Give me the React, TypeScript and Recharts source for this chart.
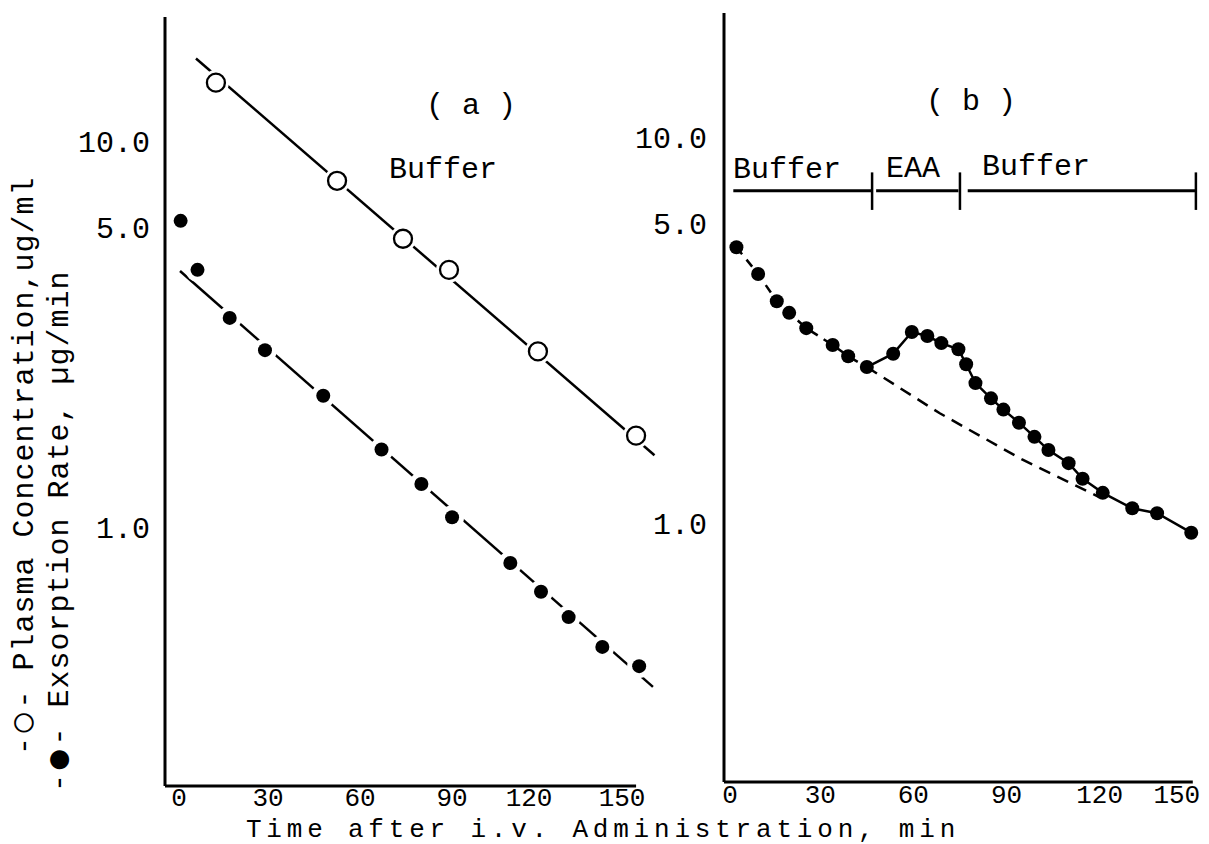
import { ComposedChart, Line, XAxis, YAxis, ReferenceLine } from 'recharts';

const FONT = '"Liberation Mono", "Courier New", monospace';

// panel (a): plasma concentration, open circles
const timeOpenA = [13, 52.5, 74, 89, 118, 150];
const plasmaA = [13.5, 7.5, 5.3, 4.4, 2.7, 1.63];
const plasmaFitT = [6.5, 156];
const plasmaFitV = [15.6, 1.45];

// panel (a): exsorption rate, filled circles
const timeFilledA = [1.5, 7, 17.5, 29, 48, 67, 80, 90, 109, 119, 128, 139, 151];
const rateA = [5.9, 4.4, 3.3, 2.72, 2.07, 1.5, 1.22, 1.0, 0.76, 0.64, 0.55, 0.46, 0.41];
const rateFitT = [1.3, 155.5];
const rateFitV = [4.37, 0.362];

// panel (b): exsorption rate with EAA period
const timeB = [3, 10, 16, 20, 25.5, 34, 39, 45, 53.5, 59.5, 64.5, 69, 74.5, 77, 80, 85, 89, 94, 99, 103.5, 110, 114.5, 121, 130.5, 138.5, 149.5];
const rateB = [4.92, 4.19, 3.56, 3.32, 3.03, 2.74, 2.56, 2.4, 2.6, 2.96, 2.89, 2.77, 2.67, 2.44, 2.18, 1.99, 1.86, 1.72, 1.58, 1.46, 1.35, 1.23, 1.13, 1.03, 1.0, 0.89];
const baseT = [45, 68.5, 95, 120];
const baseV = [2.4, 1.82, 1.38, 1.1];

// treatment periods in (b)
const phaseBars = [[2, 46.5], [48, 74.5], [77.5, 151]];
const phaseTicks = [46.7, 75, 151];
const barLevel = 6.9;

const xTicks = [0, 30, 60, 90, 120, 150];
const yTicks = [1, 5, 10];

const toPts = (t: number[], v: number[]) => t.map((x, i) => ({ t: x, v: v[i] }));

// the typed labels in the original sit a little off their ticks
const yNudge: Record<number, number> = { 10: 9, 5: -21, 1: 10 };
const xNudgeA: Record<number, number> = { 0: 3, 120: -15, 150: -14 };
const xNudgeB: Record<number, number> = { 0: 3, 150: -16 };

function YTick(props: any) {
  const { x, y, payload } = props;
  return (
    <text x={x} y={y + (yNudge[payload.value] ?? 0)} dy="0.35em" textAnchor="end"
      fontFamily={FONT} fontSize={30} fill="#000">
      {Number(payload.value).toFixed(1)}
    </text>
  );
}

function makeXTick(nudge: Record<number, number>) {
  return function XTick(props: any) {
    const { x, y, payload } = props;
    return (
      <text x={x + (nudge[payload.value] ?? 0)} y={y} dy="0.71em" textAnchor="middle"
        fontFamily={FONT} fontSize={26} fill="#000">
        {payload.value}
      </text>
    );
  };
}
const XTickA = makeXTick(xNudgeA);
const XTickB = makeXTick(xNudgeB);

function OpenDot(props: any) {
  const { cx, cy, index } = props;
  if (cx == null || cy == null) return null;
  return (
    <g key={`o-${index}`}>
      <circle cx={cx} cy={cy} r={13} fill="#fff" />
      <circle cx={cx} cy={cy} r={9} fill="#fff" stroke="#000" strokeWidth={2.3} />
    </g>
  );
}

function FilledHaloDot(props: any) {
  const { cx, cy, index } = props;
  if (cx == null || cy == null) return null;
  return (
    <g key={`f-${index}`}>
      <circle cx={cx} cy={cy} r={12} fill="#fff" />
      <circle cx={cx} cy={cy} r={7} fill="#000" />
    </g>
  );
}

function FilledDot(props: any) {
  const { cx, cy, index } = props;
  if (cx == null || cy == null) return null;
  return <circle key={`b-${index}`} cx={cx} cy={cy} r={7} fill="#000" />;
}

export default function App() {
  const early = toPts(timeB, rateB).slice(0, 8);
  const late = toPts(timeB, rateB).slice(7);

  return (
    <div style={{ position: 'absolute', left: 0, top: 0, width: 1209, height: 844, background: '#fff' }}>
      <div style={{ position: 'absolute', left: 0, top: 0 }}>
        <ComposedChart width={680} height={844} margin={{ top: 17, right: 20, bottom: 8, left: 85 }}>
          <XAxis type="number" dataKey="t" domain={[-3.6, 157.8]} ticks={xTicks} allowDataOverflow
            axisLine={false} tickLine={false} tickSize={0} tickMargin={2} height={50} tick={<XTickA />} />
          <YAxis type="number" dataKey="v" scale="log" domain={[0.2, 20]} ticks={yTicks} allowDataOverflow
            width={80} axisLine={{ stroke: '#000', strokeWidth: 3 }} tickLine={false} tickSize={0}
            tickMargin={15} tick={<YTick />} />
          <ReferenceLine segment={[{ x: -3.6, y: 0.2 }, { x: 150, y: 0.2 }]} stroke="#000" strokeWidth={3} />
          <Line data={toPts(plasmaFitT, plasmaFitV)} dataKey="v" stroke="#000" strokeWidth={2.5}
            dot={false} isAnimationActive={false} />
          <Line data={toPts(rateFitT, rateFitV)} dataKey="v" stroke="#000" strokeWidth={2.5}
            dot={false} isAnimationActive={false} />
          <Line data={toPts(timeOpenA, plasmaA)} dataKey="v" stroke="none" dot={<OpenDot />}
            activeDot={false} isAnimationActive={false} />
          <Line data={toPts(timeFilledA, rateA)} dataKey="v" stroke="none" dot={<FilledHaloDot />}
            activeDot={false} isAnimationActive={false} />
        </ComposedChart>
      </div>

      <div style={{ position: 'absolute', left: 600, top: 0 }}>
        <ComposedChart width={609} height={844} margin={{ top: 13, right: 10, bottom: 12, left: 34 }}>
          <XAxis type="number" dataKey="t" domain={[-1, 152]} ticks={xTicks} allowDataOverflow
            axisLine={false} tickLine={false} tickSize={0} tickMargin={3} height={50} tick={<XTickB />} />
          <YAxis type="number" dataKey="v" scale="log" domain={[0.2, 20]} ticks={yTicks} allowDataOverflow
            width={90} axisLine={{ stroke: '#000', strokeWidth: 3 }} tickLine={false} tickSize={0}
            tickMargin={17} tick={<YTick />} />
          <ReferenceLine segment={[{ x: -1, y: 0.2 }, { x: 150, y: 0.2 }]} stroke="#000" strokeWidth={3} />
          {phaseBars.map(([a, b], i) => (
            <ReferenceLine key={`bar-${i}`} segment={[{ x: a, y: barLevel }, { x: b, y: barLevel }]}
              stroke="#000" strokeWidth={3} />
          ))}
          {phaseTicks.map((t, i) => (
            <ReferenceLine key={`tk-${i}`} segment={[{ x: t, y: 6.15 }, { x: t, y: 7.7 }]}
              stroke="#000" strokeWidth={2.5} />
          ))}
          <Line data={toPts(baseT, baseV)} dataKey="v" stroke="#000" strokeWidth={2.5} strokeDasharray="12 8"
            dot={false} isAnimationActive={false} />
          <Line data={early} dataKey="v" stroke="#000" strokeWidth={2.5} strokeDasharray="9 7"
            dot={false} isAnimationActive={false} />
          <Line data={late} dataKey="v" stroke="#000" strokeWidth={2.5}
            dot={false} isAnimationActive={false} />
          <Line data={toPts(timeB, rateB)} dataKey="v" stroke="none" dot={<FilledDot />}
            activeDot={false} isAnimationActive={false} />
        </ComposedChart>
      </div>

      <svg width={1209} height={844} style={{ position: 'absolute', left: 0, top: 0, pointerEvents: 'none' }}
        fontFamily={FONT} fill="#000">
        <text x={471} y={114} fontSize={30} textAnchor="middle">( a )</text>
        <text x={971} y={110} fontSize={30} textAnchor="middle">( b )</text>
        <text x={443} y={178} fontSize={30} textAnchor="middle">Buffer</text>
        <text x={787} y={178} fontSize={30} textAnchor="middle">Buffer</text>
        <text x={913} y={177} fontSize={30} textAnchor="middle">EAA</text>
        <text x={1036} y={175} fontSize={30} textAnchor="middle">Buffer</text>
        <text x={603} y={837} fontSize={26} letterSpacing={4.8} textAnchor="middle">
          Time after i.v. Administration, min
        </text>
        <text transform="translate(33, 755) rotate(-90)" fontSize={30} letterSpacing={1}>
          -<tspan fontSize={44} dy={4}>○</tspan><tspan dy={-4}>- Plasma Concentration,ug/ml</tspan>
        </text>
        <text transform="translate(68, 792) rotate(-90)" fontSize={30} letterSpacing={1}>
          -<tspan fontSize={44} dy={4}>●</tspan><tspan dy={-4}>- Exsorption Rate, µg/min</tspan>
        </text>
      </svg>
    </div>
  );
}
